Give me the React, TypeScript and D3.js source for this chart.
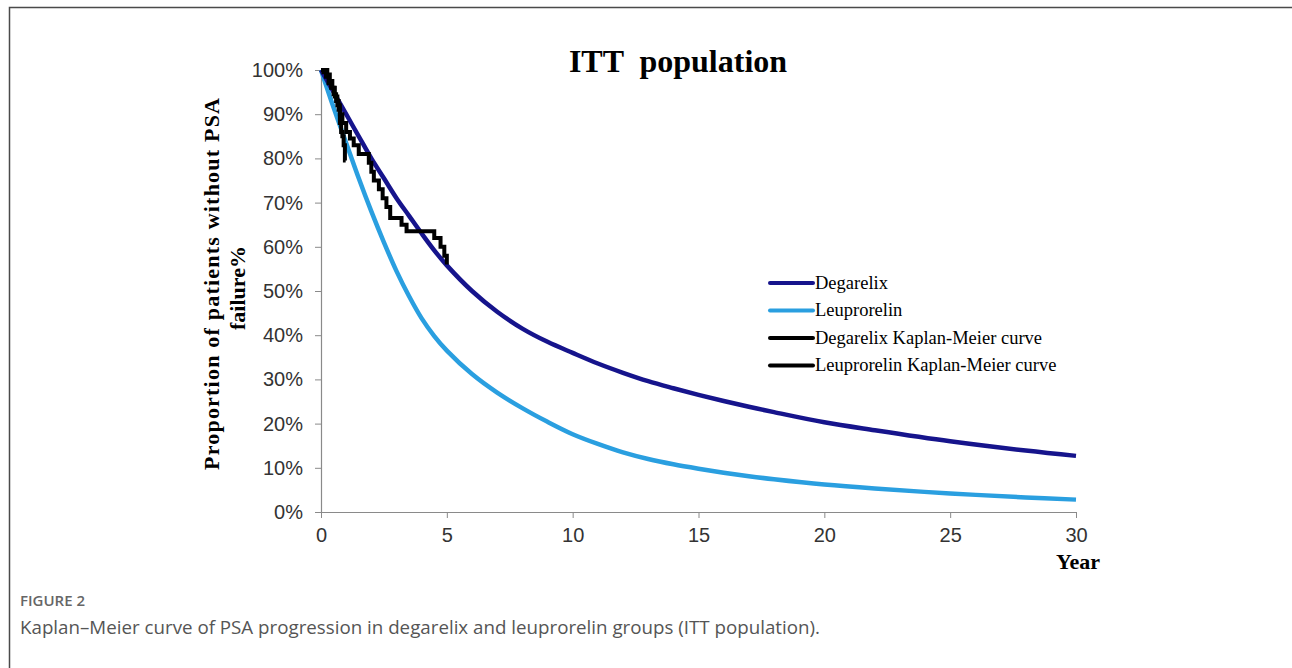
import * as d3 from 'd3';
import { useEffect, useRef } from 'react';

const W = 1292;
const H = 668;

// fitted model curves (year, % without PSA failure)
const degarelixYears = [0, 0.5, 1, 1.5, 2, 2.5, 3, 3.5, 4, 4.5, 5, 6, 7, 8, 9, 10, 11, 12, 13, 14, 15, 16, 17, 18, 20, 22, 25, 28, 30];
const degarelixPct = [100, 95, 90, 85, 80, 75.5, 71, 67, 63, 59.2, 55.8, 50, 45.3, 41.5, 38.5, 36, 33.6, 31.5, 29.6, 28, 26.5, 25.1, 23.8, 22.6, 20.3, 18.5, 16, 13.9, 12.7];

const leuprorelinYears = [0, 0.5, 1, 1.5, 2, 2.5, 3, 3.5, 4, 4.5, 5, 6, 7, 8, 9, 10, 11, 12, 13, 14, 15, 16, 17, 18, 20, 22, 25, 28, 30];
const leuprorelinPct = [100, 91.5, 83.5, 75.5, 68, 61, 54.5, 48.8, 43.8, 39.8, 36.5, 31.2, 27, 23.5, 20.4, 17.6, 15.4, 13.5, 12, 10.8, 9.8, 8.9, 8.1, 7.4, 6.2, 5.3, 4.2, 3.3, 2.8];

// Kaplan-Meier steps
const degKmYears = [0, 0.25, 0.35, 0.45, 0.55, 0.65, 0.75, 0.85, 1.0, 1.15, 1.3, 1.5, 1.9, 2.0, 2.1, 2.3, 2.45, 2.6, 2.75, 3.2, 3.4, 4.5, 4.75, 4.9, 5.0];
const degKmPct = [100, 99, 97.5, 96, 94, 92, 90, 88, 86, 84.5, 83, 81, 79, 77, 75, 73, 71, 69, 66.5, 65, 63.5, 62, 60, 58, 56];

const leuKmYears = [0, 0.1, 0.2, 0.3, 0.4, 0.5, 0.6, 0.7, 0.75, 0.8, 0.85, 0.9, 0.95, 0.98];
const leuKmPct = [100, 99.5, 98.5, 97, 96, 94.5, 93, 91, 88, 86, 85, 83, 79.5, 79.5];

const xTicks = [0, 5, 10, 15, 20, 25, 30];
const yTicks = [0, 10, 20, 30, 40, 50, 60, 70, 80, 90, 100];

const legendItems = [
    { label: 'Degarelix', color: '#16148c' },
    { label: 'Leuprorelin', color: '#2a9fe0' },
    { label: 'Degarelix Kaplan-Meier curve', color: '#000000' },
    { label: 'Leuprorelin Kaplan-Meier curve', color: '#000000' },
];

function zip(xs: number[], ys: number[]): [number, number][] {
    return xs.map((x, i) => [x, ys[i]]);
}

export default function App() {
    const svgRef = useRef<SVGSVGElement | null>(null);

    useEffect(() => {
        if (!svgRef.current) {
            return;
        }
        const svg = d3.select(svgRef.current);
        svg.selectAll('*').remove();

        const x = d3.scaleLinear().domain([0, 30]).range([321, 1076]);
        const y = d3.scaleLinear().domain([0, 100]).range([512, 70]);

        // page frame
        svg.append('path')
            .attr('d', `M9.5,${H} L9.5,7.5 L${W},7.5`)
            .attr('fill', 'none')
            .attr('stroke', '#4a4a4a')
            .attr('stroke-width', 1.5);

        const serif = '"Liberation Serif", "Times New Roman", serif';
        const sans = '"Liberation Sans", Arial, sans-serif';

        // y axis
        const yAxis = svg.append('g')
            .attr('transform', `translate(${x(0)},0)`)
            .call(d3.axisLeft(y).tickValues(yTicks).tickSize(6).tickFormat((d) => `${d}%`));
        yAxis.select('.domain').attr('stroke', '#8a8a8a').attr('stroke-width', 1.2);
        yAxis.selectAll('.tick line').attr('stroke', '#8a8a8a');
        yAxis.selectAll('.tick text')
            .attr('x', -18)
            .attr('font-family', sans)
            .attr('font-size', 20)
            .attr('fill', '#333');

        // x axis
        const xAxis = svg.append('g')
            .attr('transform', `translate(0,${y(0)})`)
            .call(d3.axisBottom(x).tickValues(xTicks).tickSize(6).tickSizeOuter(0));
        xAxis.select('.domain').attr('stroke', '#8a8a8a').attr('stroke-width', 1.2);
        xAxis.selectAll('.tick line').attr('stroke', '#8a8a8a');
        xAxis.selectAll('.tick text')
            .attr('y', 16)
            .attr('font-family', sans)
            .attr('font-size', 20)
            .attr('fill', '#333');

        const smooth = d3.line<[number, number]>()
            .x((d) => x(d[0]))
            .y((d) => y(d[1]))
            .curve(d3.curveCatmullRom.alpha(0.5));

        const step = d3.line<[number, number]>()
            .x((d) => x(d[0]))
            .y((d) => y(d[1]))
            .curve(d3.curveStepAfter);

        svg.append('path')
            .attr('d', smooth(zip(leuprorelinYears, leuprorelinPct)))
            .attr('fill', 'none')
            .attr('stroke', legendItems[1].color)
            .attr('stroke-width', 4.5);

        svg.append('path')
            .attr('d', smooth(zip(degarelixYears, degarelixPct)))
            .attr('fill', 'none')
            .attr('stroke', legendItems[0].color)
            .attr('stroke-width', 4.5);

        svg.append('path')
            .attr('d', step(zip(leuKmYears, leuKmPct)))
            .attr('fill', 'none')
            .attr('stroke', '#000')
            .attr('stroke-width', 4);

        svg.append('path')
            .attr('d', step(zip(degKmYears, degKmPct)))
            .attr('fill', 'none')
            .attr('stroke', '#000')
            .attr('stroke-width', 4);

        // title
        svg.append('text')
            .attr('x', 678)
            .attr('y', 72)
            .attr('text-anchor', 'middle')
            .attr('font-family', serif)
            .attr('font-weight', 700)
            .attr('font-size', 32)
            .attr('fill', '#000')
            .style('white-space', 'pre')
            .text('ITT  population');

        // y label
        const yl = svg.append('text')
            .attr('transform', 'translate(0,284) rotate(-90)')
            .attr('text-anchor', 'middle')
            .attr('font-family', serif)
            .attr('font-weight', 700)
            .attr('font-size', 22)
            .attr('fill', '#000');
        yl.append('tspan')
            .attr('x', 0)
            .attr('y', 219)
            .attr('textLength', 372)
            .attr('lengthAdjust', 'spacing')
            .text('Proportion of patients without PSA');
        yl.append('tspan').attr('x', -4).attr('y', 245).text('failure%');

        svg.append('text')
            .attr('x', 1100)
            .attr('y', 569)
            .attr('text-anchor', 'end')
            .attr('font-family', serif)
            .attr('font-weight', 700)
            .attr('font-size', 22)
            .attr('fill', '#000')
            .text('Year');

        // legend
        const lg = svg.append('g').attr('transform', 'translate(770,283)');
        legendItems.forEach((item, i) => {
            const row = lg.append('g').attr('transform', `translate(0,${i * 27.5})`);
            row.append('line')
                .attr('x1', 0)
                .attr('x2', 43)
                .attr('stroke', item.color)
                .attr('stroke-width', 4)
                .attr('stroke-linecap', 'round');
            row.append('text')
                .attr('x', 45)
                .attr('dy', '0.32em')
                .attr('font-family', serif)
                .attr('font-size', 18.5)
                .attr('fill', '#000')
                .text(item.label);
        });

        // caption
        svg.append('text')
            .attr('x', 20)
            .attr('y', 606)
            .attr('font-family', '"Open Sans", sans-serif')
            .attr('font-size', 15)
            .attr('font-weight', 600)
            .attr('fill', '#666')
            .text('FIGURE 2');
        svg.append('text')
            .attr('x', 20)
            .attr('y', 634)
            .attr('font-family', '"Open Sans", sans-serif')
            .attr('font-size', 17.5)
            .attr('textLength', 800)
            .attr('lengthAdjust', 'spacingAndGlyphs')
            .attr('fill', '#555')
            .text('Kaplan\u2013Meier curve of PSA progression in degarelix and leuprorelin groups (ITT population).');
    }, []);

    return (
        <svg
            ref={svgRef}
            width={W}
            height={H}
            style={{ position: 'absolute', left: 0, top: 0, background: '#fff', display: 'block' }}
        />
    );
}
